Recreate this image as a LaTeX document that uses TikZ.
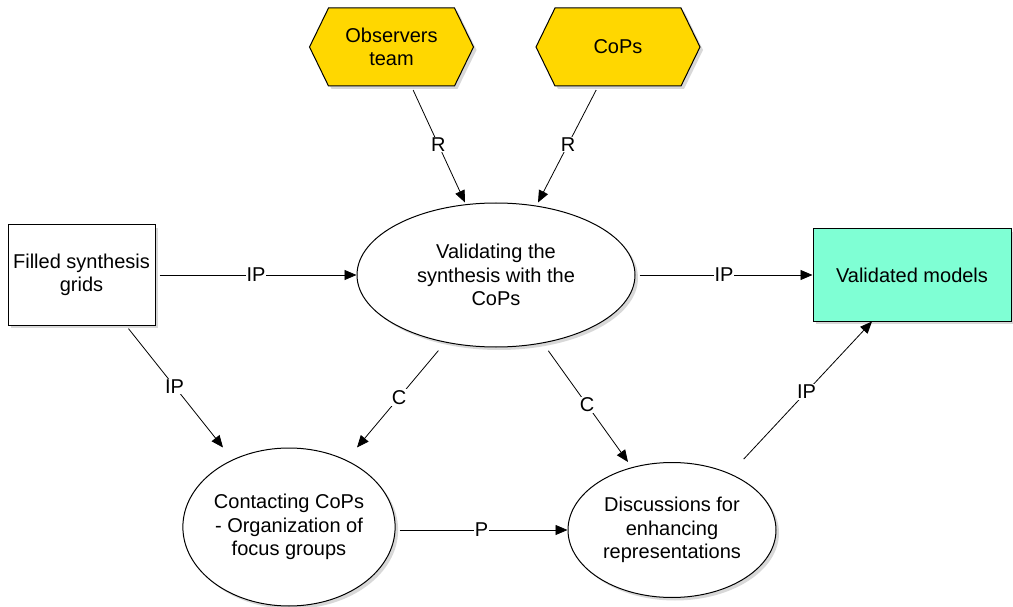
\documentclass[tikz,border=0pt]{standalone}
\usepackage{fontspec}
\setmainfont{Liberation Sans}
\usetikzlibrary{shapes.geometric,shapes.symbols,shadows,arrows.meta,calc}
\definecolor{hexgold}{RGB}{255,215,0}
\definecolor{modelgreen}{RGB}{127,255,212}
\begin{document}
\begin{tikzpicture}[x=1pt,y=-1pt,
    >={Triangle[length=12pt,width=10pt]},
    every node/.style={font=\fontsize{20}{23.5}\selectfont,align=center},
    dropshade/.style={drop shadow={shadow xshift=3pt,shadow yshift=-3pt,fill=black!30}},
    task/.style={ellipse,draw,line width=1pt,fill=white,inner sep=0pt,dropshade},
    datum/.style={rectangle,draw,line width=1pt,fill=white,dropshade},
    resource/.style={signal,signal to=east and west,signal pointer angle=128,
        draw,line width=1pt,fill=hexgold,minimum width=164pt,minimum height=78pt,dropshade},
    conn/.style={->,line width=0.8pt,shorten <=4pt},
    edgelab/.style={fill=white,inner sep=1pt}]
  \useasboundingbox (0,0) rectangle (1013,607);
  \node[resource] (obs) at (391.5,47) {Observers\\team};
  \node[resource] (cops) at (618,47) {CoPs};
  \node[datum,minimum width=147pt,minimum height=100pt] (fsg) at (81.5,275) {Filled synthesis\\grids};
  \node[task,minimum width=278pt,minimum height=144pt] (val) at (496,275) {Validating the\\synthesis with the\\CoPs};
  \node[datum,fill=modelgreen,minimum width=198pt,minimum height=92pt] (vm) at (912,275) {Validated models};
  \node[task,minimum width=208pt,minimum height=158pt] (cont) at (289,527) {Contacting CoPs\\- Organization of\\focus groups};
  \node[task,minimum width=208pt,minimum height=135pt] (disc) at (672,530) {Discussions for\\enhancing\\representations};
  % connectors
  \draw[conn] (fsg) -- node[edgelab] {IP} (val);
  \draw[conn] (val) -- node[edgelab] {IP} (vm);
  \draw[conn] ($(obs.south)+(20,0)$) -- node[edgelab] {R} ($(val.north)+(-31,0)$);
  \draw[conn] ($(cops.south)+(-20,0)$) -- node[edgelab] {R} ($(val.north)+(42,0)$);
  \draw[conn] ($(fsg.south)+(44.5,0)$) -- node[edgelab] {IP} ($(cont.north)+(-66,0)$);
  \draw[conn] ($(val.south)+(-55,0)$) -- node[edgelab] {C} ($(cont.north)+(68,0)$);
  \draw[conn] ($(val.south)+(50,0)$) -- node[edgelab] {C} ($(disc.north)+(-44,0)$);
  \draw[conn] (cont.east |- disc.west) -- node[edgelab] {P} (disc.west);
  \draw[conn] ($(disc.north)+(69,0)$) -- node[edgelab] {IP} ($(vm.south)+(-40,0)$);
\end{tikzpicture}
\end{document}
